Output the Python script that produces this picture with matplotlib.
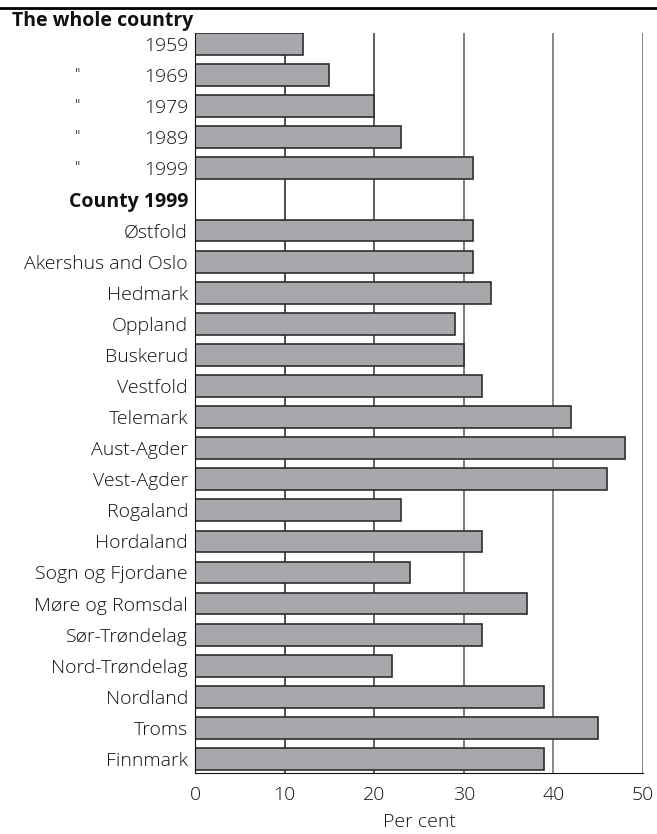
import numpy as np
import matplotlib.pyplot as plt
import matplotlib.transforms as mtransforms
from matplotlib.lines import Line2D

plt.rcParams['font.family'] = ['Open Sans', 'DejaVu Sans']

# Data
years = ['1959', '1969', '1979', '1989', '1999']
year_values = [12, 15, 20, 23, 31]
counties = ['Østfold', 'Akershus and Oslo', 'Hedmark', 'Oppland', 'Buskerud',
            'Vestfold', 'Telemark', 'Aust-Agder', 'Vest-Agder', 'Rogaland',
            'Hordaland', 'Sogn og Fjordane', 'Møre og Romsdal', 'Sør-Trøndelag',
            'Nord-Trøndelag', 'Nordland', 'Troms', 'Finnmark']
county_values = [31, 31, 33, 29, 30, 32, 42, 48, 46, 23, 32, 24, 37, 32, 22, 39, 45, 39]

labels = years + ['County 1999'] + counties
values = year_values + [np.nan] + county_values
pos = np.arange(len(labels))

fs = 14
txt = '#111111'

fig = plt.figure(figsize=(6.57, 8.34), dpi=100)
ax = fig.add_axes([195 / 657, 61 / 834, 448 / 657, 740 / 834])

# grid lines behind bars
grid_cols = {10: '#1e1e1e', 20: '#333333', 30: '#555555', 40: '#666666', 50: '#666666'}
for x, c in grid_cols.items():
    ax.axvline(x, color=c, lw=1.1, zorder=0)

ax.barh(pos, values, height=0.7, color='#a7a8ab', edgecolor='#2e2e2e',
        linewidth=1.2, zorder=2)

ax.set_xlim(0, 50)
ax.set_ylim(len(labels) - 0.55, -0.355)
ax.set_xticks([0, 10, 20, 30, 40, 50])
ax.set_yticks(pos)
ax.set_yticklabels(labels)
ax.tick_params(axis='y', length=0, pad=5, labelsize=fs, colors=txt)
ax.tick_params(axis='x', length=0, pad=9, labelsize=fs, colors=txt)
for lab in ax.get_yticklabels() + ax.get_xticklabels():
    lab.set_fontweight('light')
ax.get_yticklabels()[len(years)].set_fontweight('bold')

for side in ['top', 'right']:
    ax.spines[side].set_visible(False)
ax.spines['left'].set_color('#111111')
ax.spines['bottom'].set_color('#111111')
ax.spines['left'].set_zorder(3)

ax.set_xlabel('Per cent', fontsize=fs, fontweight='light', color=txt, labelpad=7)

# ditto marks for repeated years
trans = mtransforms.blended_transform_factory(fig.transFigure, ax.transData)
for p in pos[1:len(years)]:
    ax.text(78 / 657, p, '"', transform=trans, ha='center', va='center',
            fontsize=11, fontweight='light', color=txt)

fig.text(12 / 657, 1 - 21 / 834, 'The whole country', fontsize=14,
         fontweight='bold', color=txt, ha='left', va='center')

fig.add_artist(Line2D([0, 1], [1 - 8 / 834, 1 - 8 / 834], color='black',
                      lw=2, transform=fig.transFigure))

fig.savefig('out.png', dpi=100)
